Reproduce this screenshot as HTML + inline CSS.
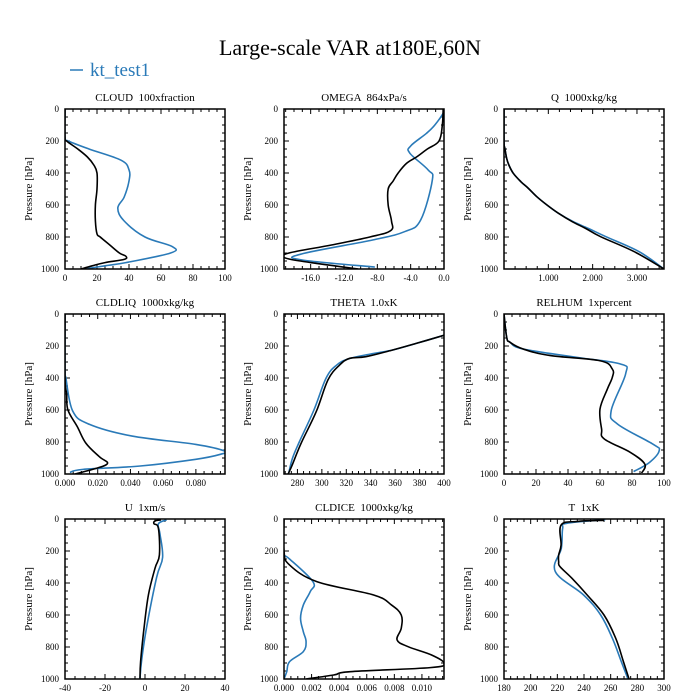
<!DOCTYPE html>
<html><head><meta charset="utf-8"><style>
html,body{margin:0;padding:0;background:#fff;}
svg{display:block;font-family:"Liberation Serif",serif;}
text{white-space:pre;}
</style></head><body>
<svg id="chart" width="700" height="700" viewBox="0 0 700 700">
<text x="350" y="55" font-size="22" text-anchor="middle">Large-scale VAR at180E,60N</text>
<g>
<line x1="70" y1="70" x2="83" y2="70" stroke="#2a7ab8" stroke-width="1.5"/>
<text x="90" y="76" font-size="19" fill="#2a7ab8">kt_test1</text>
</g>
</svg>
<script>
const pressureTicks=[0,200,400,600,800,1000];
// CLOUD
const cloudBlackP=[0,180,200,250,300,350,400,500,600,700,780,800,850,900,920,940,960,980,1000];
const cloudBlackV=[0,0,1,8,14,18,20,20,19,19,20,22,28,34,38,37,25,17,10];
const cloudBlueP=[0,180,200,250,320,380,450,550,620,700,800,860,900,960,980,1000];
const cloudBlueV=[0,0,2,15,35,40,40,37,33,37,50,67,66,38,25,12];
// OMEGA
const omegaBlackP=[0,100,200,250,300,340,400,450,500,600,700,760,800,850,900,930,960,1000];
const omegaBlackV=[-0.1,-0.2,-0.6,-2.0,-3.3,-4.5,-5.5,-6.1,-6.7,-6.7,-6.3,-6.4,-8.9,-13.5,-18.6,-19.1,-16,-10.3];
const omegaBlueP=[0,17,100,152,231,276,381,444,694,766,818,906,943,988];
const omegaBlueV=[-0.1,0,-1.1,-2.1,-4.0,-4.1,-1.9,-1.4,-2.8,-4.7,-8.5,-17.1,-17.1,-8.3];
// Q
const qBlackP=[0,204,246,308,350,402,454,496,548,600,652,704,746,798,892,1000];
const qBlackV=[0,0,0.02,0.06,0.11,0.21,0.38,0.55,0.74,0.97,1.23,1.54,1.84,2.18,2.94,3.61];
const qBlueP=[0,204,246,308,350,402,454,496,548,600,652,704,746,798,892,1000];
const qBlueV=[0,0,0.02,0.06,0.11,0.21,0.38,0.55,0.74,0.97,1.23,1.56,1.9,2.3,3.05,3.61];
// CLDLIQ
const liqBlackP=[0,400,500,600,704,808,892,933,965,1000];
const liqBlackV=[0,0,0.001,0.0018,0.0075,0.0128,0.021,0.026,0.019,0.006];
const liqBlueP=[0,380,398,606,690,763,815,856,877,908,950,971,990];
const liqBlueV=[0,0,0.0005,0.0047,0.015,0.041,0.080,0.0975,0.095,0.080,0.046,0.011,0.003];
// THETA
const thetaBlackP=[133,183,225,267,277,319,412,610,808,944,1000];
const thetaBlackV=[400,377.6,358,336,322.8,314.5,305,295.4,283,275.7,272.4];
const thetaBlueP=[133,183,225,250,280,320,400,600,800,900,990];
const thetaBlueV=[400,377.6,358,340,322,312,303.5,293.5,281.5,276,273];
// RELHUM
const rhBlackP=[0,146,177,219,260,292,344,396,469,594,719,781,865,938,994];
const rhBlackV=[0,1.7,3.8,12,29,60,67.7,67.7,64.6,60,61,62.7,79,88,86];
const rhBlueP=[0,146,177,219,271,313,375,604,688,813,854,927,985];
const rhBlueV=[0,1.7,3.8,12,45.7,73,76,67,71,93,97,91,81];
// U
const uBlackP=[6,12,30,58,225,308,475,683,892,996];
const uBlackV=[8,5,4.5,6.7,7.2,5,1.7,-0.5,-2.2,-2.5];
const uBlueP=[6,30,94,240,365,677,885,996];
const uBlueV=[10.8,6.7,7.5,8.8,5.8,0.8,-1.7,-2.5];
// CLDICE
const iceBlackP=[0,200,287,392,475,538,600,683,756,798,850,902,929,954,975,1000];
const iceBlackV=[0,0,0.0004,0.0024,0.0065,0.0078,0.0085,0.0085,0.0082,0.0090,0.0107,0.0116,0.0106,0.0048,0.0036,0.0016];
const iceBlueP=[229,250,392,454,538,621,704,767,829,892,954,1000];
const iceBlueV=[0,0.0004,0.0021,0.0019,0.0014,0.0012,0.0014,0.0016,0.0014,0.0004,0.0002,0];
// T
const tBlackP=[8,15,38,163,225,267,298,371,475,600,746,892,1000];
const tBlackV=[255,235,222.8,222.8,221,221,222,231,242.4,255,263.8,269.6,273.8];
const tBlueP=[4,27,58,183,329,475,600,746,892,1000];
const tBlueV=[256,227,224,223,218.5,239.7,252.5,261.3,268,273];

const cloudTicks=[0,20,40,60,80,100];
const omegaTicks=[-16,-12,-8,-4,0];
const qTicks=[1,2,3];
const liqTicks=[0,0.02,0.04,0.06,0.08];
const thetaTicks=[280,300,320,340,360,380,400];
const rhTicks=[0,20,40,60,80,100];
const uTicks=[-40,-20,0,20,40];
const iceTicks=[0,0.002,0.004,0.006,0.008,0.010];
const tTicks=[180,200,220,240,260,280,300];

const NS='http://www.w3.org/2000/svg';
const svg=document.getElementById('chart');
const BLUE='#2a7ab8';
function mk(tag,attrs,parent){const e=document.createElementNS(NS,tag);for(const k in attrs)e.setAttribute(k,attrs[k]);parent.appendChild(e);return e;}
function smoothPath(pts){
 if(pts.length<2)return '';
 let d='M'+pts[0][0]+','+pts[0][1];
 for(let i=0;i<pts.length-1;i++){
  const p0=pts[Math.max(0,i-1)],p1=pts[i],p2=pts[i+1],p3=pts[Math.min(pts.length-1,i+2)];
  const t=0.18;
  const c1x=p1[0]+(p2[0]-p0[0])*t,c1y=p1[1]+(p2[1]-p0[1])*t;
  const c2x=p2[0]-(p3[0]-p1[0])*t,c2y=p2[1]-(p3[1]-p1[1])*t;
  d+=` C${c1x},${c1y} ${c2x},${c2y} ${p2[0]},${p2[1]}`;
 }
 return d;
}

const panels=[
 {key:'cloud',title:'CLOUD  100xfraction',left:65,top:109,xmin:0,xmax:100,ticks:cloudTicks,minor:5,dec:0,bp:cloudBlackP,bv:cloudBlackV,lp:cloudBlueP,lv:cloudBlueV},
 {key:'omega',title:'OMEGA  864xPa/s',left:284,top:109,xmin:-19.2,xmax:0,ticks:omegaTicks,minor:1,dec:1,bp:omegaBlackP,bv:omegaBlackV,lp:omegaBlueP,lv:omegaBlueV},
 {key:'q',title:'Q  1000xkg/kg',left:504,top:109,xmin:0,xmax:3.61,ticks:qTicks,minor:0.25,dec:3,bp:qBlackP,bv:qBlackV,lp:qBlueP,lv:qBlueV},
 {key:'cldliq',title:'CLDLIQ  1000xkg/kg',left:65,top:314,xmin:0,xmax:0.0978,ticks:liqTicks,minor:0.005,dec:3,bp:liqBlackP,bv:liqBlackV,lp:liqBlueP,lv:liqBlueV},
 {key:'theta',title:'THETA  1.0xK',left:284,top:314,xmin:269,xmax:400,ticks:thetaTicks,minor:5,dec:0,bp:thetaBlackP,bv:thetaBlackV,lp:thetaBlueP,lv:thetaBlueV},
 {key:'relhum',title:'RELHUM  1xpercent',left:504,top:314,xmin:0,xmax:100,ticks:rhTicks,minor:5,dec:0,bp:rhBlackP,bv:rhBlackV,lp:rhBlueP,lv:rhBlueV},
 {key:'u',title:'U  1xm/s',left:65,top:519,xmin:-40,xmax:40,ticks:uTicks,minor:5,dec:0,bp:uBlackP,bv:uBlackV,lp:uBlueP,lv:uBlueV},
 {key:'cldice',title:'CLDICE  1000xkg/kg',left:284,top:519,xmin:0,xmax:0.0116,ticks:iceTicks,minor:0.0005,dec:3,bp:iceBlackP,bv:iceBlackV,lp:iceBlueP,lv:iceBlueV},
 {key:'t',title:'T  1xK',left:504,top:519,xmin:180,xmax:300,ticks:tTicks,minor:5,dec:0,bp:tBlackP,bv:tBlackV,lp:tBlueP,lv:tBlueV}
];
const W=160,H=160;
panels.forEach(pn=>{
 const g=mk('g',{},svg);
 
 
 const xs=v=>pn.left+(v-pn.xmin)/(pn.xmax-pn.xmin)*W;
 const ys=p=>pn.top+p/1000*H;
 const clipId='clip-'+pn.key;
 const cp=mk('clipPath',{id:clipId},g);
 mk('rect',{x:pn.left,y:pn.top,width:W,height:H},cp);
 const t=mk('text',{x:pn.left+W/2,y:pn.top-8,'font-size':11,'text-anchor':'middle'},g);
 t.textContent=pn.title;
 
 
 const yl=mk('text',{x:0,y:0,'font-size':11,'text-anchor':'middle',transform:`translate(${pn.left-33},${pn.top+H/2}) rotate(-90)`},g);
 yl.textContent='Pressure [hPa]';
 
 
 for(let p=0;p<=1000;p+=50){
  const major=p%200===0;const L=major?5:3;const y=ys(p);
  mk('line',{x1:pn.left,y1:y,x2:pn.left+L,y2:y,stroke:'#000','stroke-width':1},g);
  mk('line',{x1:pn.left+W,y1:y,x2:pn.left+W-L,y2:y,stroke:'#000','stroke-width':1},g);
 }
 pressureTicks.forEach(p=>{
  const tl=mk('text',{x:pn.left-6,y:ys(p)+3,'font-size':9,'text-anchor':'end'},g);
  tl.textContent=String(p);
  
  
 });
 const step=pn.ticks.length>1?pn.ticks[1]-pn.ticks[0]:1;
 const start=Math.ceil((pn.xmin-1e-9)/pn.minor);
 for(let k=start;k*pn.minor<=pn.xmax+1e-9;k++){
  const v=k*pn.minor;const r=Math.abs(v/step-Math.round(v/step));const major=r<1e-6;
  const L=major?5:3;const x=xs(v);
  mk('line',{x1:x,y1:pn.top+H,x2:x,y2:pn.top+H-L,stroke:'#000','stroke-width':1},g);
  mk('line',{x1:x,y1:pn.top,x2:x,y2:pn.top+L,stroke:'#000','stroke-width':1},g);
 }
 pn.ticks.forEach(v=>{
  const tl=mk('text',{x:xs(v),y:pn.top+H+12,'font-size':9,'text-anchor':'middle'},g);
  tl.textContent=v.toFixed(pn.dec);
  
  
 });
 const blue=mk('path',{d:smoothPath(pn.lp.map((p,i)=>[xs(pn.lv[i]),ys(p)])),fill:'none',stroke:BLUE,'stroke-width':1.6,'clip-path':`url(#${clipId})`},g);
 
 
 const black=mk('path',{d:smoothPath(pn.bp.map((p,i)=>[xs(pn.bv[i]),ys(p)])),fill:'none',stroke:'#000','stroke-width':1.6,'clip-path':`url(#${clipId})`},g);
 
 
 const fr=mk('rect',{x:pn.left,y:pn.top,width:W,height:H,fill:'none',stroke:'#000','stroke-width':1.5},g);
 
 
});
</script>
</body></html>
